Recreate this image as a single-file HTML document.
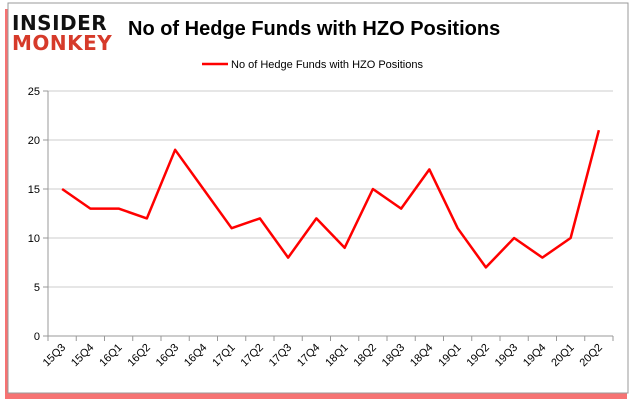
<!DOCTYPE html>
<html><head><meta charset="utf-8"><style>
body{margin:0;background:#fff;width:637px;height:408px;overflow:hidden;font-family:"Liberation Sans",sans-serif}
</style></head><body>
<svg width="637" height="408" xmlns="http://www.w3.org/2000/svg">
<rect x="5" y="9" width="622" height="390" fill="#e00" opacity="0.55"/>
<rect x="8" y="3" width="620" height="390" fill="#fff" stroke="#999" stroke-width="1"/>
<g>
<text x="12" y="30" font-family="DejaVu Sans" font-weight="bold" font-size="20" fill="#111" letter-spacing="0.5">INSIDER</text>
<text x="12" y="50" font-family="DejaVu Sans" font-weight="bold" font-size="20" fill="#d63a2a" letter-spacing="0.5">MONKEY</text>
</g>
<text x="128" y="35" font-size="20" font-weight="bold" fill="#000">No of Hedge Funds with HZO Positions</text>
<line x1="202" y1="64" x2="228" y2="64" stroke="#f00" stroke-width="2.5"/>
<text x="231" y="68" font-size="11" fill="#000">No of Hedge Funds with HZO Positions</text>
<g id="axes"></g>
<g id="marks"></g>
</svg>
<script>
const categories=["15Q3","15Q4","16Q1","16Q2","16Q3","16Q4","17Q1","17Q2","17Q3","17Q4","18Q1","18Q2","18Q3","18Q4","19Q1","19Q2","19Q3","19Q4","20Q1","20Q2"];
const values=[15,13,13,12,19,15,11,12,8,12,9,15,13,17,11,7,10,8,10,21];
const yTicks=[0,5,10,15,20,25];
const NS="http://www.w3.org/2000/svg";
const L=48,R=613,T=91,B=336,YMAX=25;
const band=(R-L)/categories.length;
const xs=i=>L+band*(i+0.5);
const ys=v=>B-(v/YMAX)*(B-T);
const axes=document.getElementById('axes'),marks=document.getElementById('marks');
function mk(tag,at,p){const e=document.createElementNS(NS,tag);for(const k in at)e.setAttribute(k,at[k]);p.appendChild(e);return e;}
yTicks.forEach(t=>{
 const g=mk('line',{x1:L,x2:R,y1:ys(t),y2:ys(t),stroke:t===0?'#999':'#ccc','stroke-width':1},axes);
 
 
 const tk=mk('line',{x1:L-5,x2:L,y1:ys(t),y2:ys(t),stroke:'#999'},axes);
 
 
 const tx=mk('text',{x:L-8,y:ys(t)+4,'text-anchor':'end','font-size':11,fill:'#000'},axes);
 tx.textContent=t;
 
 
});
const ya=mk('line',{x1:L,x2:L,y1:T,y2:B,stroke:'#999'},axes);


for(let i=0;i<=categories.length;i++){
 const x=L+band*i;
 const tk=mk('line',{x1:x,x2:x,y1:B,y2:B+5,stroke:'#999'},axes);
 
 
}
categories.forEach((c,i)=>{
 const x=xs(i)+4,y=B+12;
 const tx=mk('text',{x:x,y:y,'text-anchor':'end','font-size':11,fill:'#000',transform:`rotate(-45 ${x} ${y})`},axes);
 tx.textContent=c;
 
 
});
const pl=mk('polyline',{points:values.map((v,i)=>xs(i)+','+ys(v)).join(' '),fill:'none',stroke:'#f00','stroke-width':2.5,'stroke-linejoin':'round'},marks);


</script>
</body></html>
